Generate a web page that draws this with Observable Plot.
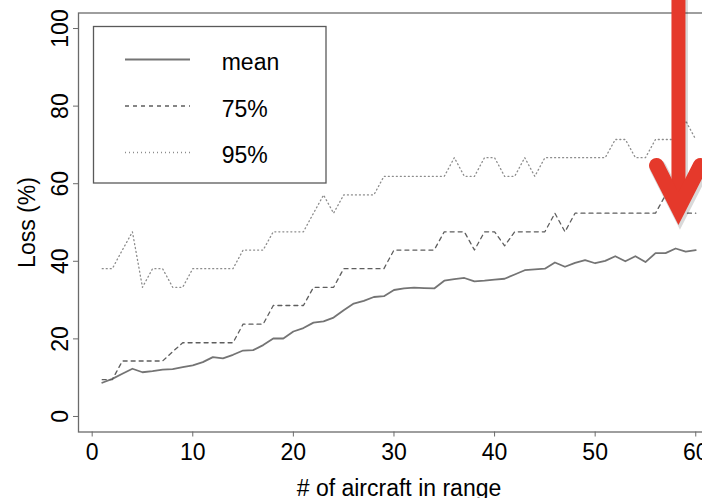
<!DOCTYPE html>
<html>
<head>
<meta charset="utf-8">
<script src="https://cdn.jsdelivr.net/npm/d3@7"></script>
<script src="https://cdn.jsdelivr.net/npm/@observablehq/plot@0.6"></script>
<style>
  html, body { margin: 0; padding: 0; background: white; overflow: hidden; }
  #chart { width: 702px; height: 498px; position: relative; }
</style>
</head>
<body>
<div id="chart"></div>
<script>
// ---- data ----
const aircraft = [1,2,3,4,5,6,7,8,9,10,11,12,13,14,15,16,17,18,19,20,
  21,22,23,24,25,26,27,28,29,30,31,32,33,34,35,36,37,38,39,40,
  41,42,43,44,45,46,47,48,49,50,51,52,53,54,55,56,57,58,59,60];

const meanLoss = [8.7,9.7,11.0,12.3,11.4,11.7,12.1,12.2,12.7,13.2,
  14.0,15.3,15.0,15.9,17.0,17.1,18.4,20.1,20.1,21.9,
  22.8,24.2,24.5,25.5,27.4,29.1,29.8,30.8,31.0,32.6,
  33.0,33.2,33.1,33.0,35.0,35.4,35.7,34.8,35.0,35.3,
  35.5,36.6,37.7,37.9,38.1,39.7,38.6,39.6,40.3,39.5,
  40.1,41.3,40.0,41.3,39.8,42.1,42.1,43.3,42.5,42.9];

const p75Loss = [9.5,9.5,14.3,14.3,14.3,14.3,14.3,16.7,19.0,19.0,
  19.0,19.0,19.0,19.0,23.8,23.8,23.8,28.6,28.6,28.6,
  28.6,33.3,33.3,33.3,38.1,38.1,38.1,38.1,38.1,42.9,
  42.9,42.9,42.9,42.9,47.6,47.6,47.6,42.9,47.6,47.6,
  44.0,47.6,47.6,47.6,47.6,52.4,47.6,52.4,52.4,52.4,
  52.4,52.4,52.4,52.4,52.4,52.4,57.1,52.4,52.4,52.4];

const p95Loss = [38.1,38.1,42.9,47.6,33.3,38.1,38.1,33.3,33.3,38.1,
  38.1,38.1,38.1,38.1,42.9,42.9,42.9,47.6,47.6,47.6,
  47.6,52.4,57.1,52.4,57.1,57.1,57.1,57.1,61.9,61.9,
  61.9,61.9,61.9,61.9,61.9,66.7,61.9,61.9,66.7,66.7,
  61.9,61.9,66.7,61.9,66.7,66.7,66.7,66.7,66.7,66.7,
  66.7,71.4,71.4,66.7,66.7,71.4,71.4,71.4,76.2,71.4];

const seriesNames = ["mean", "75%", "95%"];
const xTicks = [0, 10, 20, 30, 40, 50, 60];
const yTicks = [0, 20, 40, 60, 80, 100];
const xLabel = "# of aircraft in range";
const yLabel = "Loss (%)";

// red annotation arrow (data space)
const arrowShaft = [{x: 58.28, y: 112}, {x: 58.28, y: 56}];
const arrowHead = [{x: 56.1, y: 64.7}, {x: 58.28, y: 53.6}, {x: 60.46, y: 64.7}];

// ---- styles ----
const seriesStyle = [
  {stroke: "#747474", strokeWidth: 1.8, dash: null},
  {stroke: "#5e5e5e", strokeWidth: 1.3, dash: "4,4"},
  {stroke: "#8c8c8c", strokeWidth: 1.3, dash: "1,3"}
];

const table = aircraft.map((a, i) => ({a, mean: meanLoss[i], p75: p75Loss[i], p95: p95Loss[i]}));
const keys = ["mean", "p75", "p95"];

const font = "'Liberation Sans', Arial, Helvetica, sans-serif";
const red = "#e5392b";

const chart = Plot.plot({
  width: 702,
  height: 498,
  marginLeft: 78,
  marginRight: -17,
  marginTop: 12.5,
  marginBottom: 66.5,
  x: {domain: [-1.36, 62.36]},
  y: {domain: [-4, 104]},
  style: {fontFamily: font, fontSize: "23px", color: "black", background: "white"},
  marks: [
    ...keys.map((k, i) => Plot.lineY(table, {
      x: "a", y: k,
      stroke: seriesStyle[i].stroke,
      strokeWidth: seriesStyle[i].strokeWidth,
      strokeDasharray: seriesStyle[i].dash,
      strokeLinejoin: "round"
    })),
    Plot.frame({stroke: "#6b6b6b", strokeWidth: 1.3}),
    Plot.axisX({ticks: xTicks, tickSize: 5, tickPadding: 7, label: null, stroke: "#6b6b6b", fill: "black", fontSize: 23}),
    Plot.axisY({ticks: yTicks, tickSize: 5, tickFormat: () => "", label: null, stroke: "#6b6b6b"}),
    Plot.text(yTicks, {y: d => d, text: d => String(d), frameAnchor: "left", dx: -11, rotate: -90,
      textAnchor: "middle", lineAnchor: "bottom", fontSize: 23, fill: "black"}),
    Plot.text([yLabel], {text: d => d, frameAnchor: "left", dx: -44, rotate: -90,
      textAnchor: "middle", lineAnchor: "bottom", fontSize: 23, fill: "black"}),
    Plot.text([xLabel], {text: d => d, frameAnchor: "bottom", dy: 63.5,
      textAnchor: "middle", lineAnchor: "bottom", fontSize: 23, fill: "black"}),
    // soft shadow under the arrow
    Plot.line(arrowShaft, {x: "x", y: "y", stroke: "black", strokeOpacity: 0.15, strokeWidth: 16, dx: 1.5, dy: 2.5}),
    Plot.line(arrowHead, {x: "x", y: "y", stroke: "black", strokeOpacity: 0.15, strokeWidth: 17, dx: 1.5, dy: 2.5,
      strokeLinecap: "round", strokeLinejoin: "miter", strokeMiterlimit: 6}),
    // red arrow
    Plot.line(arrowShaft, {x: "x", y: "y", stroke: red, strokeWidth: 14}),
    Plot.line(arrowHead, {x: "x", y: "y", stroke: red, strokeWidth: 15, strokeLinecap: "round",
      strokeLinejoin: "miter", strokeMiterlimit: 6})
  ]
});

document.getElementById("chart").appendChild(chart);

// ---- legend box (R style, top-left) ----
const svg = d3.select(chart);
const lg = svg.append("g").attr("font-family", font).attr("font-size", 23).attr("text-anchor", "start");
lg.append("rect")
  .attr("x", 93.5).attr("y", 26.5).attr("width", 232.5).attr("height", 156.5)
  .attr("fill", "white").attr("stroke", "#595959").attr("stroke-width", 1.3);
const rowY = [59.5, 106, 152.5];
seriesNames.forEach((name, i) => {
  const s = seriesStyle[i];
  lg.append("line")
    .attr("x1", 125).attr("x2", 190).attr("y1", rowY[i]).attr("y2", rowY[i])
    .attr("stroke", s.stroke).attr("stroke-width", s.strokeWidth)
    .attr("stroke-dasharray", s.dash);
  lg.append("text")
    .attr("x", 221.7).attr("y", rowY[i] + 10.7)
    .attr("text-anchor", "start")
    .attr("fill", "black").text(name);
});
</script>
</body>
</html>
